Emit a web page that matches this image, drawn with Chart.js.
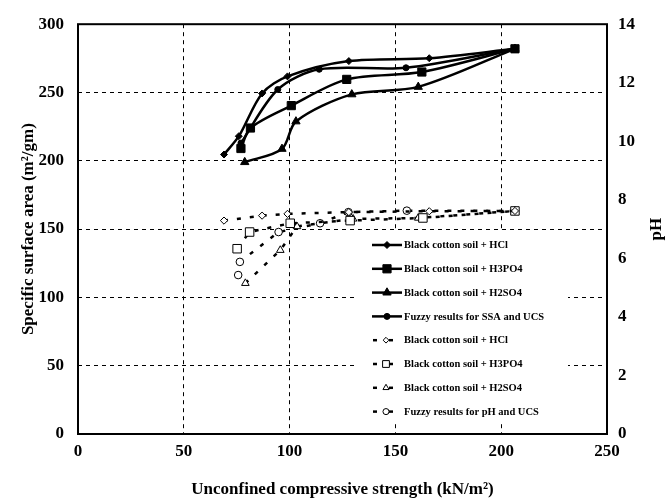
<!DOCTYPE html>
<html><head><meta charset="utf-8">
<script src="https://cdn.jsdelivr.net/npm/chart.js@4.4.1/dist/chart.umd.min.js"></script>
<style>html,body{margin:0;padding:0;background:#fff;}#wrap{width:668px;height:500px;}</style>
</head><body><div id="wrap"><canvas id="c" width="668" height="500"></canvas></div>
<script>
// ---- data ----
const ucsTicks = [0, 50, 100, 150, 200, 250];
const ssaTicks = [0, 50, 100, 150, 200, 250, 300];
const phTicks = [0, 2, 4, 6, 8, 10, 12, 14];

// Specific surface area (left axis)
const ucsHCl_ssa   = [69, 76, 87, 99, 128, 166, 206.5];
const ssaHCl       = [204.6, 218, 249.3, 261.8, 273, 275.1, 282];
const ucsH3PO4_ssa = [77, 81.5, 100.8, 127, 162.5, 206.5];
const ssaH3PO4     = [209, 224, 240.4, 259.6, 265, 282];
const ucsH2SO4_ssa = [78.8, 96.4, 103, 129.4, 160.8, 206.5];
const ssaH2SO4     = [199, 208.7, 228.8, 248.6, 254.1, 282];
const ucsFuzzy_ssa = [77, 94.4, 114, 155, 206.5];
const ssaFuzzy     = [213, 252.2, 267, 268.1, 282];

// pH (right axis)
const ucsHCl_ph    = [69, 87, 99, 128, 166, 206.5];
const phHCl        = [7.29, 7.46, 7.52, 7.58, 7.61, 7.62];
const ucsH3PO4_ph  = [75.2, 81.1, 100.3, 128.6, 163, 206.5];
const phH3PO4      = [6.33, 6.9, 7.2, 7.29, 7.38, 7.62];
const ucsH2SO4_ph  = [79.1, 95.6, 103.5, 130, 160.8, 206.5];
const phH2SO4      = [5.15, 6.28, 7.09, 7.35, 7.38, 7.62];
const ucsFuzzy_ph  = [75.7, 76.5, 94.8, 114.4, 127.8, 155.4, 206.5];
const phFuzzy      = [5.43, 5.88, 6.9, 7.2, 7.58, 7.63, 7.62];

const seriesNames = [
  'Black cotton soil + HCl',
  'Black cotton soil + H3PO4',
  'Black cotton soil + H2SO4',
  'Fuzzy results for SSA and UCS',
  'Black cotton soil + HCl',
  'Black cotton soil + H3PO4',
  'Black cotton soil + H2SO4',
  'Fuzzy results for pH and UCS'
];
const xTitle = 'Unconfined compressive strength (kN/m\u00B2)';
const yTitle = 'Specific surface area (m\u00B2/gm)';
const y1Title = 'pH';

// ---- build ----
const pts = (xs, ys) => xs.map((x, i) => ({x: x, y: ys[i]}));
const FONT = 'Liberation Serif';

function solid(label, xs, ys, style, r) {
  return {label, data: pts(xs, ys), yAxisID: 'y', borderColor: '#000', borderWidth: 2.5,
    backgroundColor: '#000', pointStyle: style, pointRadius: r, pointHoverRadius: r,
    pointBackgroundColor: '#000', pointBorderColor: '#000', pointBorderWidth: 1,
    tension: 0.3, fill: false};
}
function dashed(label, xs, ys, style, r) {
  return {label, data: pts(xs, ys), yAxisID: 'y1', borderColor: '#000', borderWidth: 2.5,
    borderDash: [4, 9], backgroundColor: '#fff', pointStyle: style, pointRadius: r, pointHoverRadius: r,
    pointBackgroundColor: '#fff', pointBorderColor: '#000', pointBorderWidth: 1,
    tension: 0, fill: false};
}

const datasets = [
  solid(seriesNames[0], ucsHCl_ssa, ssaHCl, 'rectRot', 3.5),
  solid(seriesNames[1], ucsH3PO4_ssa, ssaH3PO4, 'rect', 5.8),
  solid(seriesNames[2], ucsH2SO4_ssa, ssaH2SO4, 'triangle', 4.8),
  solid(seriesNames[3], ucsFuzzy_ssa, ssaFuzzy, 'circle', 3),
  dashed(seriesNames[4], ucsHCl_ph, phHCl, 'rectRot', 3.6),
  dashed(seriesNames[5], ucsH3PO4_ph, phH3PO4, 'rect', 6),
  dashed(seriesNames[6], ucsH2SO4_ph, phH2SO4, 'triangle', 4.4),
  dashed(seriesNames[7], ucsFuzzy_ph, phFuzzy, 'circle', 3.8)
];

function drawMarker(ctx, style, r, x, y, fill) {
  ctx.save();
  ctx.beginPath();
  if (style === 'rect') {
    const s = r * Math.SQRT1_2;
    ctx.rect(x - s, y - s, 2 * s, 2 * s);
  } else if (style === 'rectRot') {
    ctx.moveTo(x, y - r); ctx.lineTo(x + r, y); ctx.lineTo(x, y + r); ctx.lineTo(x - r, y); ctx.closePath();
  } else if (style === 'triangle') {
    ctx.moveTo(x, y - r);
    ctx.lineTo(x + r * 0.866, y + r * 0.5);
    ctx.lineTo(x - r * 0.866, y + r * 0.5);
    ctx.closePath();
  } else {
    ctx.arc(x, y, r, 0, Math.PI * 2);
  }
  ctx.fillStyle = fill; ctx.fill();
  ctx.lineWidth = 1; ctx.strokeStyle = '#000'; ctx.setLineDash([]); ctx.stroke();
  ctx.restore();
}

const extras = {
  id: 'extras',
  afterDraw(chart) {
    const ctx = chart.ctx;
    const a = chart.chartArea;
    // frame
    ctx.save();
    ctx.strokeStyle = '#000'; ctx.lineWidth = 2; ctx.setLineDash([]);
    ctx.strokeRect(a.left, a.top, a.right - a.left, a.bottom - a.top);
    // right axis title (reads bottom-to-top)
    ctx.translate(657, (a.top + a.bottom) / 2);
    ctx.rotate(-Math.PI / 2);
    ctx.font = 'bold 17px "' + FONT + '"';
    ctx.fillStyle = '#000'; ctx.textAlign = 'center'; ctx.textBaseline = 'middle';
    ctx.fillText(y1Title, 0, 0);
    ctx.restore();
    // legend
    ctx.save();
    ctx.fillStyle = '#fff';
    ctx.fillRect(355, 232, 213, 192);
    const y0 = 245, dy = 23.8;
    chart.data.datasets.forEach((ds, i) => {
      const y = y0 + i * dy;
      ctx.strokeStyle = '#000'; ctx.lineWidth = 2.5;
      if (!ds.borderDash) {
        ctx.setLineDash([]);
        ctx.beginPath(); ctx.moveTo(372, y); ctx.lineTo(402, y); ctx.stroke();
        drawMarker(ctx, ds.pointStyle, ds.pointRadius, 387, y, '#000');
      } else {
        ctx.setLineDash([]);
        ctx.beginPath(); ctx.moveTo(373, y); ctx.lineTo(377, y); ctx.stroke();
        ctx.beginPath(); ctx.moveTo(389, y); ctx.lineTo(393, y); ctx.stroke();
        drawMarker(ctx, ds.pointStyle, ds.pointRadius * 0.8, 386, y, '#fff');
      }
      ctx.fillStyle = '#000';
      ctx.font = 'bold 10.5px "' + FONT + '"';
      ctx.textAlign = 'left'; ctx.textBaseline = 'middle';
      ctx.fillText(ds.label, 404, y + 0.5);
    });
    ctx.restore();
  }
};

const gridOpts = {color: '#000', lineWidth: 1, drawTicks: false};

new Chart(document.getElementById('c'), {
  type: 'line',
  data: {datasets},
  plugins: [extras],
  options: {
    responsive: false,
    animation: false,
    devicePixelRatio: 1,
    layout: {padding: {top: 20, left: 0, right: 0, bottom: 0}},
    plugins: {legend: {display: false}, tooltip: {enabled: false}},
    scales: {
      x: {
        type: 'linear', min: 0, max: 250,
        afterBuildTicks: s => { s.ticks = ucsTicks.map(v => ({value: v})); },
        afterFit: s => { s.height = 66; },
        grid: gridOpts,
        border: {display: false, dash: [4, 4]},
        ticks: {color: '#000', padding: 7, font: {family: FONT, size: 17, weight: 'bold'}},
        title: {display: true, text: xTitle, color: '#000', padding: {top: 0, bottom: 0},
          font: {family: FONT, size: 17, weight: 'bold'}}
      },
      y: {
        type: 'linear', position: 'left', min: 0, max: 300,
        afterBuildTicks: s => { s.ticks = ssaTicks.map(v => ({value: v})); },
        afterFit: s => { s.width = 78; },
        grid: gridOpts,
        border: {display: false, dash: [4, 4]},
        ticks: {color: '#000', padding: 14, font: {family: FONT, size: 17, weight: 'bold'}},
        title: {display: true, text: yTitle, color: '#000', padding: {top: 18, bottom: 0},
          font: {family: FONT, size: 17, weight: 'bold'}}
      },
      y1: {
        type: 'linear', position: 'right', min: 0, max: 14,
        afterBuildTicks: s => { s.ticks = phTicks.map(v => ({value: v})); },
        afterFit: s => { s.width = 61; },
        grid: {display: false, drawTicks: false},
        border: {display: false},
        ticks: {color: '#000', padding: 11, font: {family: FONT, size: 17, weight: 'bold'}}
      }
    }
  }
});
</script></body></html>
